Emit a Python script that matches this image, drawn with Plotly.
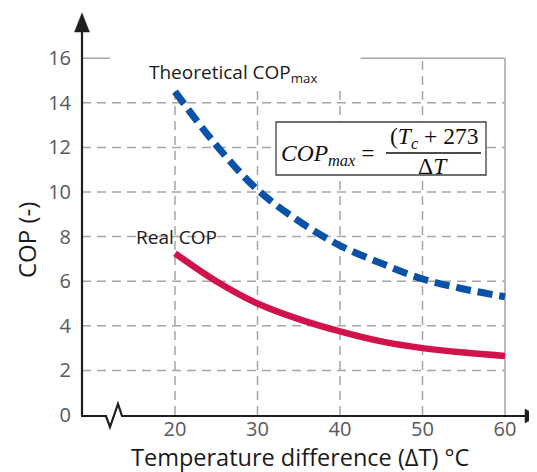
import plotly.graph_objects as go

# ---------------- data ----------------
delta_t = [20, 25, 30, 35, 40, 45, 50, 55, 60]
cop_theoretical = [14.5, 12.1, 10.1, 8.7, 7.6, 6.8, 6.1, 5.65, 5.3]
cop_real = [7.25, 6.0, 5.0, 4.3, 3.75, 3.3, 3.0, 2.8, 2.65]
x_ticks = [20, 30, 40, 50, 60]
y_ticks = [0, 2, 4, 6, 8, 10, 12, 14, 16]

# ---------------- geometry ----------------
OFF = 8  # page body margin in the browser
W, H = 537 - OFF, 472 - OFF
ML, MT = 82 - OFF, 10 - OFF
MR = 0
MB = H - (415 - OFF)
PW, PH = W - ML - MR, H - MT - MB
PX_PER_X = 8.25
PX_PER_Y = 22.3
X0 = 20 - (175 - 82) / PX_PER_X
X1 = X0 + PW / PX_PER_X
Y0 = 0.0
Y1 = PH / PX_PER_Y


def px(xp):
    # reference-picture pixel x -> paper fraction
    return (xp - OFF - ML) / PW


def py(yp):
    return (H - MB - (yp - OFF)) / PH


def path(points):
    return "M " + " L ".join(f"{px(a):.5f},{py(b):.5f}" for a, b in points)


fig = go.Figure()

fig.add_trace(go.Scatter(
    x=delta_t, y=cop_theoretical, mode="lines",
    line=dict(color="#0a52a8", width=7, dash="15px,7px", shape="spline"),
    hoverinfo="skip", showlegend=False))
fig.add_trace(go.Scatter(
    x=delta_t, y=cop_real, mode="lines",
    line=dict(color="#d2134b", width=6.5, shape="spline"),
    hoverinfo="skip", showlegend=False))

grid = dict(color="#a6a6a6", width=1.5, dash="9px,6px")
shapes = []
for v in y_ticks[1:-1]:
    shapes.append(dict(type="line", xref="x", yref="y", x0=X0, x1=60, y0=v, y1=v,
                       line=grid, layer="below"))
for v in x_ticks[:-1]:
    top = 16 if v == 50 else 14.65
    shapes.append(dict(type="line", xref="x", yref="y", x0=v, x1=v, y0=0, y1=top,
                       line=grid, layer="below"))
solid = dict(color="#a6a6a6", width=1.5)
shapes.append(dict(type="line", xref="x", yref="y", x0=X0, x1=12.1, y0=16, y1=16,
                   line=solid, layer="below"))
shapes.append(dict(type="line", xref="x", yref="y", x0=42.5, x1=60, y0=16, y1=16,
                   line=solid, layer="below"))
shapes.append(dict(type="line", xref="x", yref="y", x0=60, x1=60, y0=0, y1=16,
                   line=solid, layer="below"))

axis_col = "#1e1e1e"
shapes.append(dict(type="path", xref="paper", yref="paper",
                   path=path([(82, 416), (82, 28)]),
                   line=dict(color=axis_col, width=2.2)))
shapes.append(dict(type="path", xref="paper", yref="paper",
                   path=path([(82, 13), (74.5, 32), (89.5, 32)]) + " Z",
                   fillcolor=axis_col, line=dict(color=axis_col, width=0.5)))
shapes.append(dict(type="path", xref="paper", yref="paper",
                   path=path([(81, 416), (106, 416), (110, 427), (118, 404),
                              (122, 416), (528, 416)]),
                   line=dict(color=axis_col, width=2.2)))
shapes.append(dict(type="path", xref="paper", yref="paper",
                   path=path([(537, 416), (525, 409), (525, 423)]) + " Z",
                   fillcolor=axis_col, line=dict(color=axis_col, width=0.5)))

shapes.append(dict(type="path", xref="paper", yref="paper",
                   path=path([(276, 122), (486, 122), (486, 175), (276, 175)]) + " Z",
                   fillcolor="white", line=dict(color="#404040", width=1.3)))
shapes.append(dict(type="path", xref="paper", yref="paper",
                   path=path([(386, 153), (481, 153)]),
                   line=dict(color="#111111", width=1.5)))

serif = "Liberation Serif"
sans = "Open Sans"
txt = "#1a1a1a"
annotations = [
    dict(text="Theoretical COP<sub>max</sub>", x=px(147), y=py(73), xanchor="left",
         yanchor="middle", font=dict(family=sans, size=19, color=txt)),
    dict(text="Real COP", x=px(134), y=py(237), xanchor="left", yanchor="middle",
         font=dict(family=sans, size=19, color=txt)),
    dict(text="<i>COP</i><sub><i>max</i></sub> =", x=px(279), y=py(155),
         xanchor="left", yanchor="middle", font=dict(family=serif, size=23.5, color="#111")),
    dict(text="(<i>T</i><sub><i>c</i></sub> + 273", x=px(434), y=py(138),
         xanchor="center", yanchor="middle", font=dict(family=serif, size=23.5, color="#111")),
    dict(text="Δ<i>T</i>", x=px(433), y=py(166), xanchor="center", yanchor="middle",
         font=dict(family=serif, size=23.5, color="#111")),
    dict(text="Temperature difference (ΔT) °C", x=px(300), y=py(457),
         xanchor="center", yanchor="middle", font=dict(family=sans, size=23.5, color=txt)),
    dict(text="COP (-)", x=px(26), y=py(240), textangle=-90,
         xanchor="center", yanchor="middle", font=dict(family=sans, size=24, color=txt)),
]
for a in annotations:
    a.update(xref="paper", yref="paper", showarrow=False)

fig.update_layout(
    width=W, height=H,
    margin=dict(l=ML, r=MR, t=MT, b=MB, autoexpand=False),
    paper_bgcolor="white", plot_bgcolor="white",
    shapes=shapes, annotations=annotations,
    xaxis=dict(range=[X0, X1], tickvals=x_ticks, ticktext=[str(v) for v in x_ticks],
               showgrid=False, zeroline=False, showline=False, automargin=False,
               ticks="", tickfont=dict(family=sans, size=20, color="#595959")),
    yaxis=dict(range=[Y0, Y1], tickvals=y_ticks, ticktext=[str(v) for v in y_ticks],
               showgrid=False, zeroline=False, showline=False, automargin=False,
               ticks="outside", ticklen=6, tickcolor="rgba(0,0,0,0)",
               tickfont=dict(family=sans, size=20, color="#595959")),
)

fig.write_html("out.html")
